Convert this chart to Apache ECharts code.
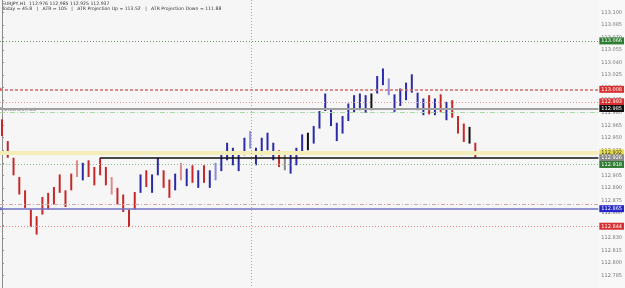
<!DOCTYPE html>
<html><head><meta charset="utf-8">
<script src="https://cdn.jsdelivr.net/npm/echarts@6/dist/echarts.min.js"></script>
<style>html,body{margin:0;padding:0;background:#f8f8f8}#c{width:625px;height:288px}</style>
</head><body><div id="c"></div>
<script>
// ---- data ----
const titleLine = "EURJPY,H1  112.976 112.985 112.925 112.937";
const infoLine = "Today = 45.8   |   ATR = 105   |   ATR Projection Up = 113.52   |   ATR Projection Down = 111.88";
const indicatorName = "#TCDTZ(H) sell";

const barHigh = [112.972,112.946,112.926,112.903,112.887,112.864,112.856,112.879,112.884,112.891,
112.906,112.887,112.907,112.923,112.920,112.923,112.915,112.926,112.915,112.903,
112.890,112.882,112.864,112.885,112.906,112.911,112.906,112.926,112.911,112.900,
112.907,112.920,112.913,112.917,112.911,112.917,112.911,112.920,112.932,112.944,
112.938,112.932,112.950,112.958,112.938,112.950,112.956,112.944,112.935,112.932,
112.930,112.938,112.954,112.956,112.964,112.982,113.003,112.985,112.968,112.976,
112.991,113.001,113.003,113.001,113.003,113.024,113.033,113.021,113.002,113.009,
113.016,113.026,113.004,112.997,113.001,112.997,113.002,112.993,112.995,112.976,
112.967,112.963,112.944];
const barLow = [112.952,112.926,112.905,112.882,112.866,112.843,112.834,112.858,112.864,112.870,
112.884,112.867,112.887,112.903,112.899,112.903,112.893,112.905,112.893,112.882,
112.870,112.861,112.843,112.864,112.884,112.891,112.884,112.905,112.890,112.878,
112.887,112.899,112.892,112.896,112.890,112.896,112.890,112.899,112.910,112.923,
112.917,112.910,112.929,112.937,112.917,112.929,112.935,112.923,112.915,112.911,
112.907,112.917,112.931,112.935,112.943,112.961,112.982,112.964,112.946,112.955,
112.970,112.980,112.983,112.980,112.983,113.003,113.013,113.001,112.981,112.988,
112.995,113.004,112.983,112.977,112.978,112.977,112.981,112.971,112.974,112.955,
112.945,112.943,112.926];
// R = down, Rl = down (light), B = up, Bl = up (light), K = black, G = grey
const barKind = ["R","R","R","R","R","R","R","R","R","R",
"R","R","R","Rl","B","R","R","R","R","Rl",
"R","R","R","R","B","R","B","B","R","R",
"B","Rl","B","R","B","R","B","Bl","B","B",
"B","B","B","Bl","B","B","B","B","R","G",
"B","B","B","K","B","B","B","B","B","B",
"B","B","B","B","K","B","B","Bl","B","B",
"B","B","B","B","R","B","R","B","R","R",
"R","K","R"];

const levelPrices = [113.066,113.008,112.993,112.985,112.980,112.932,112.926,112.918,112.870,112.865,112.844];
const blackLineStartBar = 17;
const separatorBars = [43.2];

// ---- styles ----
const kindColor = {R:'#c42828', Rl:'#e08a8a', B:'#2b2ba6', Bl:'#8a8ad6', K:'#111111', G:'#8a8a8a'};
const levelStyle = [
  {color:'#6f8f6f', type:[1,2], width:1, box:'#2e7d32', txt:'#fff'},
  {color:'#d46a6a', type:[3,2], width:1.5, box:'#d83030', txt:'#fff', mark:true},
  {color:'#e39a9a', type:[1,2], width:1, box:'#d83030', txt:'#fff'},
  {color:'#a0a0a0', type:'solid', width:2, box:'#111', txt:'#fff', mark:true},
  {color:'#a8d8a8', type:[5,2,1,2], width:1, box:null},
  {color:'#f3eeb8', type:'solid', width:4, box:'#e8df50', txt:'#333'},
  {color:'#111111', type:'solid', width:1.5, box:'#8a8a8a', txt:'#fff', partial:true},
  {color:'#8fbf8f', type:[1,2], width:1, box:'#2e7d32', txt:'#fff'},
  {color:'#d4a8a8', type:[4,2,1,2], width:1, box:null},
  {color:'#7272c4', type:'solid', width:1.5, box:'#2626c8', txt:'#fff', mark:true},
  {color:'#e58a8a', type:[1,2], width:1, box:'#d83030', txt:'#fff'}
];

const xMin = -0.344, xMax = 103.31;

const lines = levelPrices.map((p, i) => {
  const s = levelStyle[i];
  const label = s.box ? {show:true, position:'end', distance:1, formatter: p.toFixed(3),
      backgroundColor:s.box, color:s.txt, fontSize:5, padding:[1,2], fontFamily:'DejaVu Sans'} : {show:false};
  const ls = {color:s.color, type:s.type, width:s.width};
  if (s.partial) {
    return [{coord:[blackLineStartBar, p], lineStyle:ls, label:label, symbol:'none'},
            {coord:[xMax, p], symbol:'none'}];
  }
  return [{coord:[xMin, p], lineStyle:ls, label:label, symbol: s.mark ? 'rect' : 'none', symbolSize:3,
           itemStyle:{color:s.color}},
          {coord:[xMax, p], symbol:'none'}];
});
separatorBars.forEach(b => {
  lines.push([{coord:[b, 113.115], lineStyle:{color:'#a9a9a9', type:[1,2], width:1}, label:{show:false}, symbol:'none'},
              {coord:[b, 112.770], symbol:'none'}]);
});

const barData = barHigh.map((h, i) => [i, h, barLow[i]]);

const chart = echarts.init(document.getElementById('c'), null, {renderer:'canvas'});
chart.setOption({
  animation:false,
  backgroundColor:'#f8f8f8',
  grid:{left:0, right:23, top:-2.7, bottom:-1.4, show:true, backgroundColor:'#f6f6f6', borderWidth:0},
  xAxis:{type:'value', min:xMin, max:xMax, show:false},
  yAxis:{type:'value', position:'right', min:112.770, max:113.115, interval:0.015, scale:true,
    axisLine:{show:true, lineStyle:{color:'#8c8c8c'}},
    axisTick:{show:true, length:2, lineStyle:{color:'#8c8c8c'}},
    splitLine:{show:false},
    axisLabel:{fontSize:5, color:'#777', margin:3, fontFamily:'DejaVu Sans',
      showMinLabel:false, showMaxLabel:false, formatter:v => v.toFixed(3)}
  },
  graphic:[
    {type:'text', left:2, top:1, style:{text:titleLine, fontSize:4.6, fill:'#333', fontFamily:'DejaVu Sans'}},
    {type:'text', left:2, top:6, style:{text:infoLine, fontSize:4.6, fill:'#333', fontFamily:'DejaVu Sans'}},
    {type:'text', left:4, top:108, style:{text:indicatorName, fontSize:4.2, fill:'#666', fontFamily:'DejaVu Sans'}}
  ],
  series:[{
    type:'custom',
    data:barData,
    clip:false,
    renderItem:(params, api) => {
      const x = api.value(0);
      const p1 = api.coord([x, api.value(1)]);
      const p2 = api.coord([x, api.value(2)]);
      return {type:'line', shape:{x1:p1[0], y1:p1[1], x2:p2[0], y2:p2[1]},
        style:{stroke:kindColor[barKind[params.dataIndex]], lineWidth:2}};
    },
    markLine:{silent:true, animation:false, symbol:['none','none'], data:lines}
  }]
});
</script></body></html>
